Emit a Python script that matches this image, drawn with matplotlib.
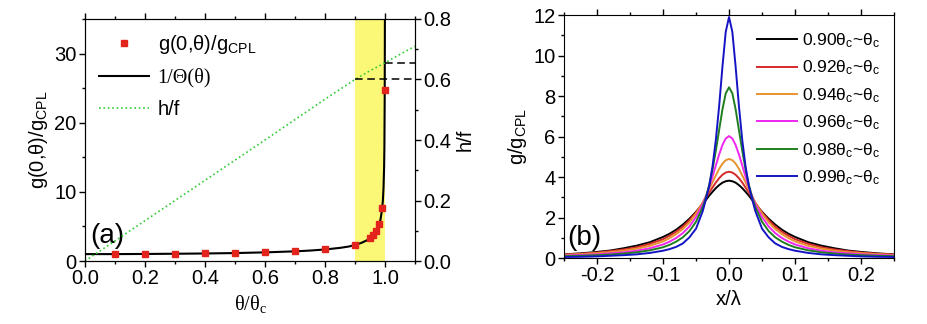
import numpy as np
import matplotlib.pyplot as plt
from matplotlib.ticker import MultipleLocator

plt.rcParams['font.family'] = ['Liberation Sans', 'DejaVu Sans']
plt.rcParams['mathtext.default'] = 'regular'

# ---- panel (a) data ----
# red squares g(0,theta)/g_CPL
theta_pts = [0.1, 0.2, 0.3, 0.4, 0.5, 0.6, 0.7, 0.8, 0.9,
             0.95, 0.96, 0.97, 0.98, 0.99, 0.999]
g_pts = [1.0, 1.02, 1.05, 1.09, 1.15, 1.25, 1.40, 1.67, 2.35,
         3.35, 3.75, 4.3, 5.3, 7.6, 24.8]

# black curve 1/Theta(theta)
theta_curve = [0, 0.1, 0.2, 0.3, 0.4, 0.5, 0.6, 0.7, 0.75, 0.8, 0.85, 0.88,
               0.9, 0.92, 0.94, 0.95, 0.96, 0.97, 0.98, 0.985, 0.99, 0.993,
               0.995, 0.997, 0.998, 0.999, 0.9995, 1.0]
inv_theta = [1.0, 1.0, 1.02, 1.05, 1.09, 1.15, 1.25, 1.40, 1.51, 1.67, 1.90,
             2.10, 2.33, 2.6, 3.0, 3.3, 3.7, 4.2, 5.2, 6.0, 7.4, 8.8,
             10.5, 13.5, 16.5, 23.5, 32, 40]

# green dotted h/f (right axis)
hf_x = [0, 0.3, 0.6, 0.8, 0.9, 0.95, 1.0, 1.05, 1.1]
hf_y = [0, 0.2, 0.4, 0.535, 0.6, 0.629, 0.655, 0.683, 0.71]

# dashed guide levels on h/f axis
dash_start = [0.9, 1.0]
dash_level = [0.6, 0.655]

# ---- panel (b) data: half profiles (symmetric about x = 0) ----
x_half = [0, 0.005, 0.01, 0.015, 0.02, 0.025, 0.03, 0.035, 0.04, 0.05, 0.06,
          0.07, 0.08, 0.09, 0.1, 0.12, 0.14, 0.16, 0.18, 0.2, 0.225, 0.25]
g90 = [3.82, 3.79, 3.72, 3.60, 3.45, 3.27, 3.08, 2.87, 2.67, 2.28, 1.94,
       1.65, 1.40, 1.20, 1.04, 0.78, 0.61, 0.48, 0.37, 0.30, 0.23, 0.18]
g92 = [4.26, 4.22, 4.11, 3.94, 3.73, 3.48, 3.23, 2.97, 2.71, 2.25, 1.87,
       1.55, 1.30, 1.10, 0.93, 0.70, 0.53, 0.42, 0.34, 0.27, 0.21, 0.17]
g94 = [4.89, 4.83, 4.66, 4.40, 4.08, 3.74, 3.39, 3.05, 2.73, 2.19, 1.76,
       1.43, 1.18, 0.98, 0.82, 0.60, 0.46, 0.36, 0.29, 0.24, 0.19, 0.15]
g96 = [6.02, 5.90, 5.58, 5.11, 4.57, 4.02, 3.51, 3.05, 2.65, 2.02, 1.56,
       1.23, 0.99, 0.81, 0.67, 0.48, 0.36, 0.28, 0.23, 0.18, 0.15, 0.12]
g98 = [8.43, 8.13, 7.34, 6.32, 5.30, 4.38, 3.62, 3.00, 2.50, 1.79, 1.33,
       1.02, 0.81, 0.65, 0.53, 0.38, 0.28, 0.22, 0.17, 0.14, 0.11, 0.09]
g99 = [11.9, 11.17, 9.44, 7.50, 5.83, 4.53, 3.56, 2.90, 2.30, 1.45, 1.02,
       0.72, 0.55, 0.44, 0.36, 0.25, 0.18, 0.14, 0.11, 0.08, 0.06, 0.05]
profiles = [g90, g92, g94, g96, g98, g99]
labels_b = ['0.90θ$_c$~θ$_c$', '0.92θ$_c$~θ$_c$', '0.94θ$_c$~θ$_c$',
            '0.96θ$_c$~θ$_c$', '0.98θ$_c$~θ$_c$', '0.99θ$_c$~θ$_c$']
colors_b = ['#000000', '#d42a2a', '#e8932f', '#f026f0', '#1f7f1f', '#1414c4']

fs = 14.5

fig = plt.figure(figsize=(9.28, 3.24), dpi=100)

# ================= panel (a) =================
ax = fig.add_axes([0.0916, 0.1944, 0.3556, 0.747])
ax.axvspan(0.9, 1.0, color='#fbf877', lw=0, zorder=0)
l_curve, = ax.plot(theta_curve, inv_theta, color='k', lw=1.5, zorder=2)
l_pts, = ax.plot(theta_pts, g_pts, 's', color='#e3241d', ms=4.5, zorder=3)
ax.set_xlim(0, 1.1)
ax.set_ylim(0, 35)
ax.xaxis.set_major_locator(MultipleLocator(0.2))
ax.xaxis.set_minor_locator(MultipleLocator(0.1))
ax.yaxis.set_major_locator(MultipleLocator(10))
ax.yaxis.set_minor_locator(MultipleLocator(5))
ax.xaxis.set_major_formatter(plt.FormatStrFormatter('%.1f'))
ax.tick_params(which='both', direction='out', top=True, right=False,
               labelsize=fs, width=1, pad=2)
ax.tick_params(which='major', length=4)
ax.tick_params(which='minor', length=2.5)
ax.set_xlabel('θ/θ$_c$', fontsize=fs, family='Liberation Serif', labelpad=3)
ax.set_ylabel('g(0,θ)/g$_{CPL}$', fontsize=fs, labelpad=3)
ax.text(0.015, 0.05, '(a)', transform=ax.transAxes, fontsize=20,
        va='bottom', ha='left')

ax2 = ax.twinx()
l_hf, = ax2.plot(hf_x, hf_y, ':', color='#33cc33', lw=1.2)
ax2.hlines(dash_level, dash_start, 1.1, colors='k', linestyles=(0, (5, 3)),
           lw=1.1)
ax2.set_ylim(0, 0.8)
ax2.set_xlim(0, 1.1)
ax2.yaxis.set_major_locator(MultipleLocator(0.2))
ax2.yaxis.set_minor_locator(MultipleLocator(0.1))
ax2.yaxis.set_major_formatter(plt.FormatStrFormatter('%.1f'))
ax2.tick_params(which='both', direction='out', labelsize=fs, width=1, pad=2)
ax2.tick_params(which='major', length=4)
ax2.tick_params(which='minor', length=2.5)
ax2.set_ylabel('h/f', fontsize=fs, labelpad=3)

leg = ax2.legend([l_pts, l_curve, l_hf],
                 ['g(0,θ)/g$_{CPL}$', '1/Θ(θ)', 'h/f'],
                 loc='upper left', bbox_to_anchor=(0.0, 1.0), frameon=False,
                 fontsize=fs, handlelength=2.5, handletextpad=0.4,
                 labelspacing=0.6, borderaxespad=0.3, numpoints=1)
leg.get_texts()[1].set_fontfamily('Liberation Serif')

# ================= panel (b) =================
bx = fig.add_axes([0.6078, 0.2037, 0.3556, 0.75])
x_full = np.concatenate([-np.array(x_half[:0:-1]), np.array(x_half)])
for prof, lab, col in zip(profiles, labels_b, colors_b):
    y_full = np.concatenate([prof[:0:-1], prof])
    bx.plot(x_full, y_full, color=col, lw=1.4, label=lab)
bx.set_xlim(-0.25, 0.25)
bx.set_ylim(0, 12)
bx.xaxis.set_major_locator(MultipleLocator(0.1))
bx.xaxis.set_minor_locator(MultipleLocator(0.05))
bx.yaxis.set_major_locator(MultipleLocator(2))
bx.yaxis.set_minor_locator(MultipleLocator(1))
bx.xaxis.set_major_formatter(plt.FormatStrFormatter('%.1f'))
bx.tick_params(which='both', direction='out', top=True, right=False,
               labelsize=fs, width=1, pad=2)
bx.tick_params(which='major', length=4)
bx.tick_params(which='minor', length=2.5)
bx.set_xlabel('x/λ', fontsize=fs, labelpad=3)
bx.set_ylabel('g/g$_{CPL}$', fontsize=fs, labelpad=3)
bx.text(0.01, 0.03, '(b)', transform=bx.transAxes, fontsize=20,
        va='bottom', ha='left')
bx.legend(loc='upper right', frameon=False, fontsize=12.5, handlelength=2.3,
          handletextpad=0.3, labelspacing=0.5, borderaxespad=0.4,
          bbox_to_anchor=(1.0, 0.99))

fig.savefig('out.png', dpi=100)
